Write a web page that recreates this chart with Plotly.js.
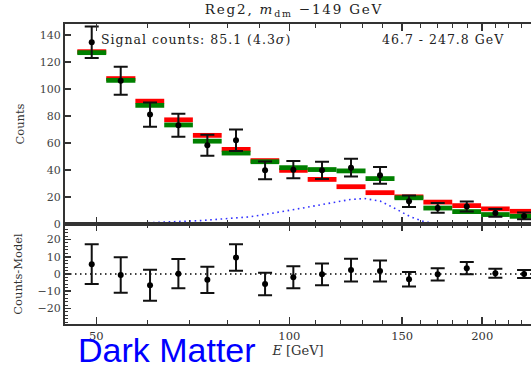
<!DOCTYPE html>
<html>
<head>
<meta charset="utf-8">
<script src="https://cdn.plot.ly/plotly-3.0.1.min.js"></script>
<style>
html,body{margin:0;padding:0;background:#fff;overflow:hidden}
#chart .annotation-text.wide{letter-spacing:1px}
#chart .annotation-text.wider{letter-spacing:1.8px}
</style>
</head>
<body>
<div id="chart" style="width:531px;height:372px"></div>
<script>
// ---- data ----
const binCenters = [49.18, 54.58, 60.64, 67.14, 74.51, 82.58, 91.67, 101.47, 112.48, 124.83, 138.54, 153.74, 170.43, 189.19, 209.65, 232.42];
const binEdges   = [46.7, 51.81, 57.53, 63.81, 70.73, 78.44, 87.01, 96.45, 106.83, 118.49, 131.51, 145.94, 161.87, 179.57, 199.16, 220.74, 244.8];
const counts     = [134.5, 106, 81, 73, 58.3, 62, 39.7, 40.2, 39.7, 41.7, 36, 16.8, 11.9, 12.9, 8.2, 6];
const countErr   = [11.6, 10.3, 9.0, 8.5, 7.7, 7.9, 6.5, 6.4, 6.4, 6.6, 6.2, 4.3, 3.6, 3.7, 2.9, 2.5];
const modelRed   = [127.5, 107.6, 90.9, 77.1, 65.6, 55.2, 46.9, 39.7, 33.0, 27.6, 23.2, 20.1, 16.2, 13.6, 11.2, 9.4];
const modelGreen = [126.8, 106.3, 87.8, 73.3, 61.3, 52.5, 46.1, 41.7, 40.3, 39.3, 33.6, 19.4, 11.8, 9.2, 7.0, 5.7];
const residual   = [5.7, -0.6, -6.5, 0.2, -3.4, 9.6, -5.8, -1.9, -0.2, 2.3, 1.7, -3.1, -0.2, 3.4, 0.4, 0];
const residErr   = [11.5, 10.3, 9.0, 8.5, 7.6, 7.7, 6.5, 6.4, 6.3, 6.6, 6.1, 4.2, 3.5, 3.6, 2.6, 2.3];
const signalE    = [47.2, 52.5, 60.7, 72.6, 86.8, 100.3, 111.7, 124.4, 130.8, 138.6, 146.2, 154.3, 162.9, 171.9, 184.6];
const signalY    = [0.1, 0.3, 1.0, 2.5, 5.3, 10.2, 14.2, 18.1, 18.9, 17.0, 11.5, 5.5, 1.5, 0.3, 0];
const majorTicksX = [50, 100, 150, 200];
const minorTicksX = [60, 70, 80, 90, 110, 120, 130, 140, 160, 170, 180, 190, 210, 220, 230];
const yTicksTop = [0, 20, 40, 60, 80, 100, 120, 140];
const yTicksBottom = [-20, -10, 0, 10, 20];
const titleText = 'Reg2, <i>m</i><sub>dm</sub> −149 GeV';
const signalText = 'Signal counts: 85.1 (4.3<i>σ</i>)';
const rangeText = '46.7 - 247.8 GeV';
const overlayText = 'Dark Matter';

// helper: build horizontal step segments from edges/values
function segs(vals) {
  const x = [], y = [];
  vals.forEach((v, i) => { x.push(binEdges[i], binEdges[i + 1], null); y.push(v, v, null); });
  return {x, y};
}
const red = segs(modelRed), green = segs(modelGreen);

const serif = 'DejaVu Serif, Liberation Serif, serif';
const axCol = '#333';

const traces = [
  {x: signalE, y: signalY, xaxis: 'x', yaxis: 'y', mode: 'lines', line: {color: 'rgb(50,50,255)', width: 1.6, dash: '1.6px,3.6px'}, hoverinfo: 'skip'},
  {x: red.x, y: red.y, xaxis: 'x', yaxis: 'y', mode: 'lines', line: {color: '#ff0000', width: 4.8}, connectgaps: false},
  {x: green.x, y: green.y, xaxis: 'x', yaxis: 'y', mode: 'lines', line: {color: '#008000', width: 4.8}, connectgaps: false},
  {x: binCenters, y: counts, xaxis: 'x', yaxis: 'y', mode: 'markers', marker: {color: '#000', size: 6},
   error_y: {type: 'data', array: countErr, color: '#111', thickness: 2, width: 7}},
  {x: binCenters, y: residual, xaxis: 'x2', yaxis: 'y2', mode: 'markers', marker: {color: '#000', size: 6},
   error_y: {type: 'data', array: residErr, color: '#111', thickness: 2, width: 7}}
];

const xRange = [1.6501, 2.3771];
const xCommon = {
  type: 'log', range: xRange, tickmode: 'array', tickvals: majorTicksX,
  ticks: 'inside', ticklen: 7, tickwidth: 1.5, tickcolor: axCol,
  minor: {tickmode: 'array', tickvals: minorTicksX, ticks: 'inside', ticklen: 4, tickwidth: 1, tickcolor: axCol},
  showline: true, linewidth: 2, linecolor: axCol, mirror: 'allticks',
  showgrid: false, zeroline: false, fixedrange: true
};

const layout = {
  width: 531, height: 372,
  margin: {l: 65, r: 0, t: 24, b: 48},
  paper_bgcolor: '#fff', plot_bgcolor: '#fff',
  showlegend: false,
  font: {family: serif, size: 11, color: axCol},
  xaxis: Object.assign({}, xCommon, {domain: [0, 1], anchor: 'y', showticklabels: false, matches: 'x2'}),
  xaxis2: Object.assign({}, xCommon, {domain: [0, 1], anchor: 'y2', showticklabels: true,
    tickfont: {family: serif, size: 11.5, color: axCol},
    title: {text: '<i>E</i> [GeV]', font: {family: serif, size: 13, color: axCol}, standoff: 4}}),
  yaxis: {domain: [0.3333, 1], anchor: 'x', range: [0, 148], tickmode: 'array', tickvals: yTicksTop,
    ticks: 'inside', ticklen: 6, tickwidth: 1.5, tickcolor: axCol,
    showline: true, linewidth: 2, linecolor: axCol, showgrid: false, zeroline: false, fixedrange: true,
    tickfont: {family: serif, size: 11, color: '#444'},
    title: {text: 'Counts', font: {family: serif, size: 11.5, color: axCol}, standoff: 13}},
  yaxis2: {domain: [0, 0.3333], anchor: 'x2', range: [-29, 29], tickmode: 'array', tickvals: yTicksBottom,
    ticks: 'inside', ticklen: 6, tickwidth: 1.5, tickcolor: axCol,
    minor: {dtick: 2, ticks: 'inside', ticklen: 3, tickwidth: 1, tickcolor: axCol},
    showline: true, linewidth: 2, linecolor: axCol, showgrid: false, zeroline: false, fixedrange: true,
    tickfont: {family: serif, size: 11, color: '#444'},
    title: {text: 'Counts-Model', font: {family: serif, size: 11.5, color: axCol}, standoff: 13}},
  shapes: [
    {type: 'line', xref: 'x2 domain', yref: 'y2', x0: 0, x1: 1, y0: 0, y1: 0,
     line: {color: '#000', width: 1.5, dash: '1.5px,3.5px'}, layer: 'below'}
  ],
  annotations: [
    {text: titleText, xref: 'paper', yref: 'paper', x: 0.3305, y: 1.047, xanchor: 'left', yanchor: 'middle',
     showarrow: false, font: {family: serif, size: 13.5, color: '#222'}},
    {text: signalText, xref: 'paper', yref: 'paper', x: 0.101, y: 0.947, xanchor: 'left', yanchor: 'middle',
     showarrow: false, font: {family: serif, size: 12.5, color: '#222'}},
    {text: rangeText, xref: 'paper', yref: 'paper', x: 0.693, y: 0.947, xanchor: 'left', yanchor: 'middle',
     showarrow: false, font: {family: serif, size: 12.5, color: '#222'}},
    {text: overlayText, xref: 'paper', yref: 'paper', x: 0.023, y: -0.158, xanchor: 'left', yanchor: 'bottom',
     showarrow: false, font: {family: 'Liberation Sans, Arial, sans-serif', size: 34, color: '#0000ff'}}
  ]
};

Plotly.newPlot('chart', traces, layout, {displayModeBar: false, staticPlot: true}).then(function () {
  const ann = document.querySelectorAll('#chart .annotation-text');
  if (ann[0]) ann[0].classList.add('wider');
  if (ann[1]) ann[1].classList.add('wide');
  if (ann[2]) ann[2].classList.add('wide');
});
</script>
</body>
</html>
